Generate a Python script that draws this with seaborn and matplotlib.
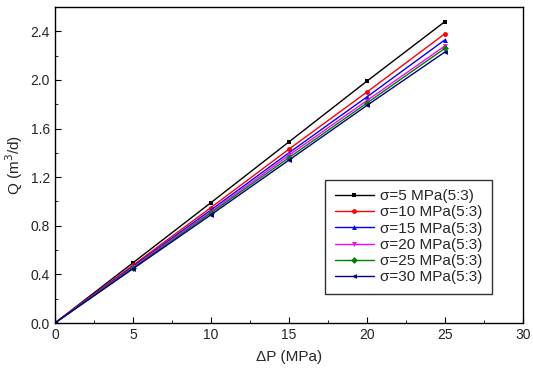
import matplotlib
matplotlib.use("Agg")
import matplotlib.pyplot as plt
import seaborn as sns
import pandas as pd
from matplotlib.ticker import MultipleLocator

dp = [0, 5, 10, 15, 20, 25]
labels = ["σ=5 MPa(5:3)", "σ=10 MPa(5:3)", "σ=15 MPa(5:3)",
          "σ=20 MPa(5:3)", "σ=25 MPa(5:3)", "σ=30 MPa(5:3)"]
q5 = [0, 0.495, 0.99, 1.49, 1.99, 2.48]
q10 = [0, 0.475, 0.95, 1.43, 1.90, 2.38]
q15 = [0, 0.465, 0.93, 1.40, 1.86, 2.33]
q20 = [0, 0.458, 0.915, 1.38, 1.83, 2.28]
q25 = [0, 0.452, 0.905, 1.36, 1.81, 2.26]
q30 = [0, 0.446, 0.89, 1.34, 1.79, 2.23]
series = [q5, q10, q15, q20, q25, q30]

colors = ["#000000", "#ff0000", "#0000ff", "#ff00ff", "#008000", "#000080"]
markers = ["s", "o", "^", "v", "D", "<"]

rows = []
for lab, vals in zip(labels, series):
    for x, y in zip(dp, vals):
        rows.append({"dP": x, "Q": y, "s": lab})
df = pd.DataFrame(rows)

sns.set_style("ticks")
plt.rcParams['font.family'] = ['Liberation Sans', 'DejaVu Sans']

fig = plt.figure(figsize=(5.33, 3.70), dpi=100)
ax = fig.add_axes([0.103, 0.127, 0.878, 0.854])

sns.lineplot(data=df, x="dP", y="Q", hue="s", style="s",
             palette=dict(zip(labels, colors)),
             markers=dict(zip(labels, markers)),
             dashes=False, markersize=3.5, markeredgewidth=0,
             linewidth=1, ax=ax)

ax.set_xlim(0, 30)
ax.set_ylim(0, 2.6)
ax.xaxis.set_major_locator(MultipleLocator(5))
ax.xaxis.set_minor_locator(MultipleLocator(2.5))
ax.yaxis.set_minor_locator(MultipleLocator(0.2))
ax.set_yticks([0, 0.4, 0.8, 1.2, 1.6, 2.0, 2.4])
ax.set_yticklabels(["0.0", "0.4", "0.8", "1.2", "1.6", "2.0", "2.4"])
ax.tick_params(which="both", direction="in", top=False, right=False,
               labelsize=10, color="black")
ax.tick_params(which="major", length=4)
ax.tick_params(which="minor", length=2.5)
for sp in ax.spines.values():
    sp.set_visible(True)
    sp.set_color("black")
    sp.set_linewidth(1)

ax.set_xlabel("ΔP (MPa)", fontsize=11, labelpad=6)
ax.set_ylabel("Q (m$^3$/d)", fontsize=11)

leg = ax.legend(loc="lower right", bbox_to_anchor=(0.934, 0.093), fontsize=11,
                frameon=True, fancybox=False, edgecolor="black",
                handlelength=2.6, labelspacing=0.15, borderpad=0.6,
                handletextpad=0.4, borderaxespad=0)
leg.get_frame().set_linewidth(1)

fig.savefig("out.png", dpi=100)
